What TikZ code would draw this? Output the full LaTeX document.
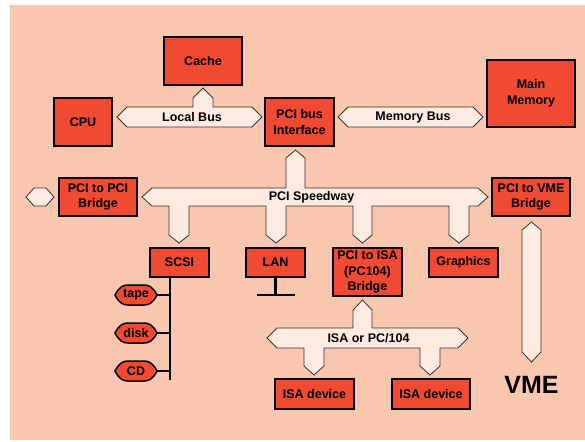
\documentclass[tikz,border=0pt]{standalone}
\usepackage{fontspec}
\setmainfont{Liberation Sans}
\usetikzlibrary{calc}
\definecolor{bgpeach}{RGB}{249,199,175}
\definecolor{boxred}{RGB}{240,74,50}
\definecolor{busfill}{RGB}{253,234,224}
\begin{document}
\begin{tikzpicture}[x=1pt,y=-1pt,
  box/.style={draw=black,line width=1.8pt,fill=boxred,inner sep=0pt,align=center,
    font=\bfseries\fontsize{12.5}{15.5}\selectfont},
  bus/.style={draw=black!80,line width=0.8pt,fill=busfill,line join=miter},
  buslabel/.style={font=\bfseries\fontsize{12.5}{14}\selectfont,inner sep=0pt},
  lensline/.style={draw=black,line width=1.5pt,fill=boxred},
  lenstext/.style={inner sep=0pt,minimum width=42pt,minimum height=20pt,
    font=\bfseries\fontsize{12.5}{14}\selectfont},
  wire/.style={line width=2.6pt}]
\useasboundingbox (0,0) rectangle (585,441);
\fill[bgpeach] (10,5) rectangle (585,440);

% ---- buses ----
% Local bus
\draw[bus] (117,117) -- (127,107) -- (193,107) -- (193,98) -- (203,88) -- (213,98)
  -- (213,107) -- (252,107) -- (262,117) -- (252,127) -- (127,127) -- cycle;
% Memory bus
\draw[bus] (338,117) -- (348,107) -- (473,107) -- (483,117) -- (473,127) -- (348,127) -- cycle;
% small stub left of PCI-PCI bridge
\draw[bus] (26,197) -- (34,188) -- (46,188) -- (54,197) -- (46,206) -- (34,206) -- cycle;
% PCI speedway
\draw[bus] (142,197) -- (152,188) -- (286,188) -- (286,158) -- (295.5,150) -- (305,158)
  -- (305,188) -- (478,188) -- (488,197) -- (478,206)
  -- (469,206) -- (469,235) -- (459,243) -- (449,235) -- (449,206)
  -- (372,206) -- (372,235) -- (362.5,243) -- (353,235) -- (353,206)
  -- (286,206) -- (286,235) -- (276,243) -- (266,235) -- (266,206)
  -- (189,206) -- (189,235) -- (179,243) -- (169,235) -- (169,206)
  -- (152,206) -- cycle;
% ISA bus
\draw[bus] (267,338) -- (277,328) -- (353,328) -- (353,310) -- (362.5,300) -- (372,310)
  -- (372,328) -- (458,328) -- (468,338) -- (458,348)
  -- (440,348) -- (440,366) -- (430,375) -- (420,366) -- (420,348)
  -- (324,348) -- (324,366) -- (314,375) -- (304,366) -- (304,348)
  -- (277,348) -- cycle;
% VME bus
\draw[bus] (531.5,222) -- (541,230) -- (541,352) -- (531.5,362) -- (522,352) -- (522,230) -- cycle;

% ---- bus labels ----
\node[buslabel] (lbl) at (192,117) {Local Bus};
\node[buslabel] (mbl) at (413,117) {Memory Bus};
\node[buslabel] (psl) at (311.5,197) {PCI Speedway};
\node[buslabel] (isl) at (368.5,338) {ISA or PC/104};
\node[font=\bfseries\fontsize{25}{28}\selectfont,inner sep=0pt] (vme) at (531.5,385) {VME};

% ---- boxes ----
\node[box,minimum width=78pt,minimum height=48pt] (cache) at (203,61) {Cache};
\node[box,minimum width=58pt,minimum height=48pt] (cpu) at (83,122) {CPU};
\node[box,minimum width=69pt,minimum height=48pt] (pbi) at (299.5,122) {PCI bus\\Interface};
\node[box,minimum width=88pt,minimum height=67pt] (mem) at (531,93.5) {Main\\Memory};
\node[box,minimum width=78pt,minimum height=38pt] (p2p) at (98,197) {PCI to PCI\\Bridge};
\node[box,minimum width=78pt,minimum height=38pt] (p2v) at (531,197) {PCI to VME\\Bridge};
\node[box,minimum width=59pt,minimum height=29pt] (scsi) at (179.5,262.5) {SCSI};
\node[box,minimum width=59pt,minimum height=29pt] (lan) at (275.5,262.5) {LAN};
\node[box,minimum width=69pt,minimum height=48pt] (p2i) at (367.5,272) {PCI to ISA\\(PC104)\\Bridge};
\node[box,minimum width=69pt,minimum height=29pt] (gfx) at (463.5,262.5) {Graphics};
\node[box,minimum width=79pt,minimum height=30pt] (isa1) at (314.5,394) {ISA device};
\node[box,minimum width=78pt,minimum height=30pt] (isa2) at (431,394) {ISA device};

% ---- SCSI chain ----
\coordinate (scsitop) at (170,278);
\coordinate (scsibot) at (170,380);
\draw[wire] (scsitop) -- (scsibot);
\foreach \n/\yy/\t in {tape/295/tape, disk/333/disk, cd/371/CD}{
  \draw[lensline,shift={(136,\yy)}] (-21,0) .. controls (-17,-8) and (-13,-10) .. (-8,-10)
    -- (8,-10) .. controls (13,-10) and (17,-8) .. (21,0)
    .. controls (17,8) and (13,10) .. (8,10) -- (-8,10)
    .. controls (-13,10) and (-17,8) .. (-21,0) -- cycle;
  \node[lenstext] (\n) at (136,\yy) {\t};
  \draw[wire] (\n.east) -- (\n.east -| scsibot);
}

% ---- LAN stub ----
\coordinate (lanfoot) at (275.5,295);
\coordinate (lanL) at (257,295);
\coordinate (lanR) at (295,295);
\draw[wire] (lan.south) -- (lanfoot);
\draw[wire] (lanL) -- (lanR);
\end{tikzpicture}
\end{document}
